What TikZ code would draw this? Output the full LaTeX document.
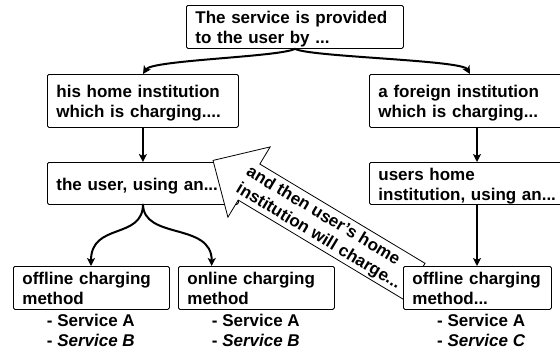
\documentclass[tikz,border=0pt]{standalone}
\usepackage{fontspec}
\setmainfont{Liberation Sans}
\usetikzlibrary{arrows.meta}
\tikzset{
  box/.style={draw=black, line width=0.8pt, rounded corners=1.5pt, fill=white,
    inner xsep=9pt, inner ysep=0pt, align=left, anchor=north west,
    text height=17pt, font=\fontsize{17}{20}\selectfont\bfseries},
  boxtwo/.style={box, text depth=23.6pt},
  boxone/.style={box, text depth=3.6pt},
  conn/.style={line width=2pt, -{Stealth[length=8pt,width=8pt,inset=2pt]}},
  svc/.style={anchor=base west, inner sep=0pt, font=\fontsize{17}{20}\selectfont\bfseries},
  bigarrow/.style={draw=black, line width=0.8pt, fill=white, line join=miter},
}
\begin{document}
\begin{tikzpicture}[x=1pt,y=-1pt]
\useasboundingbox (0,0) rectangle (560,354);
\clip (0,0) rectangle (560,354);
% boxes
\node[boxtwo, text width=199pt, minimum height=43pt] (top) at (186,5) {The service is provided\\to the user by ...};
\node[boxtwo, text width=173pt, minimum height=53pt] (home) at (47,74) {his home institution\\which is charging....};
\node[boxtwo, text width=193pt, minimum height=53pt] (foreign) at (369,74) {a foreign institution\\which is charging...};
\node[boxone, text width=173pt, minimum height=42pt] (user) at (47,162) {the user, using an...};
\node[boxtwo, text width=193pt, minimum height=42pt] (uhome) at (369,162) {users home\\institution, using an...};
\node[boxtwo, text width=138pt, minimum height=43pt] (off1) at (13,266) {offline charging\\method};
\node[boxtwo, text width=138pt, minimum height=43pt] (on) at (178,266) {online charging\\method};
% service lists
\node[svc] (s1a) at (46.7,326.7) {- Service A};
\node[svc] (s1b) at (46.7,346.7) {- \textit{Service B}};
\node[svc] (s2a) at (211.7,326.7) {- Service A};
\node[svc] (s2b) at (211.7,346.7) {- \textit{Service B}};
\node[svc] (s3a) at (437,326.7) {- Service A};
\node[svc] (s3b) at (437,346.7) {- \textit{Service C}};
% connectors
\coordinate (tsplit) at (top.south);
\draw[conn] (tsplit) .. controls (280,57) and (152,60) .. (143,74);
\draw[conn] (tsplit) .. controls (310,57) and (462,60) .. (470,74);
\draw[conn] (home.south) -- (user.north);
\coordinate (ubot) at (143,204);
\draw[conn] (ubot) .. controls (143,240) and (91,222) .. (91,266);
\draw[conn] (ubot) .. controls (143,240) and (211.7,222) .. (211.7,266);
\coordinate (fh) at (477,126.5);
\coordinate (uh1) at (477,162);
\draw[conn] (fh) -- (uh1);
% big arrow
\begin{scope}[shift={(414.2,281.3)}, rotate=149]
\draw[bigarrow] (0,-21) -- (192.7,-21) -- (192.7,-41) -- (234.7,0) -- (192.7,41) -- (192.7,21) -- (0,21) -- cycle;
\end{scope}
\node[rotate=-31, align=left, inner sep=0pt, font=\fontsize{17}{20}\selectfont\bfseries] (note) at (323.5,228.3) {and then user's home\\institution will charge...};
\node[boxtwo, text width=130pt, minimum height=43pt] (off2) at (403,266) {offline charging\\method...};
\coordinate (uh2) at (477,204);
\draw[conn] (uh2) -- (off2.north -| uh2);
\end{tikzpicture}
\end{document}
